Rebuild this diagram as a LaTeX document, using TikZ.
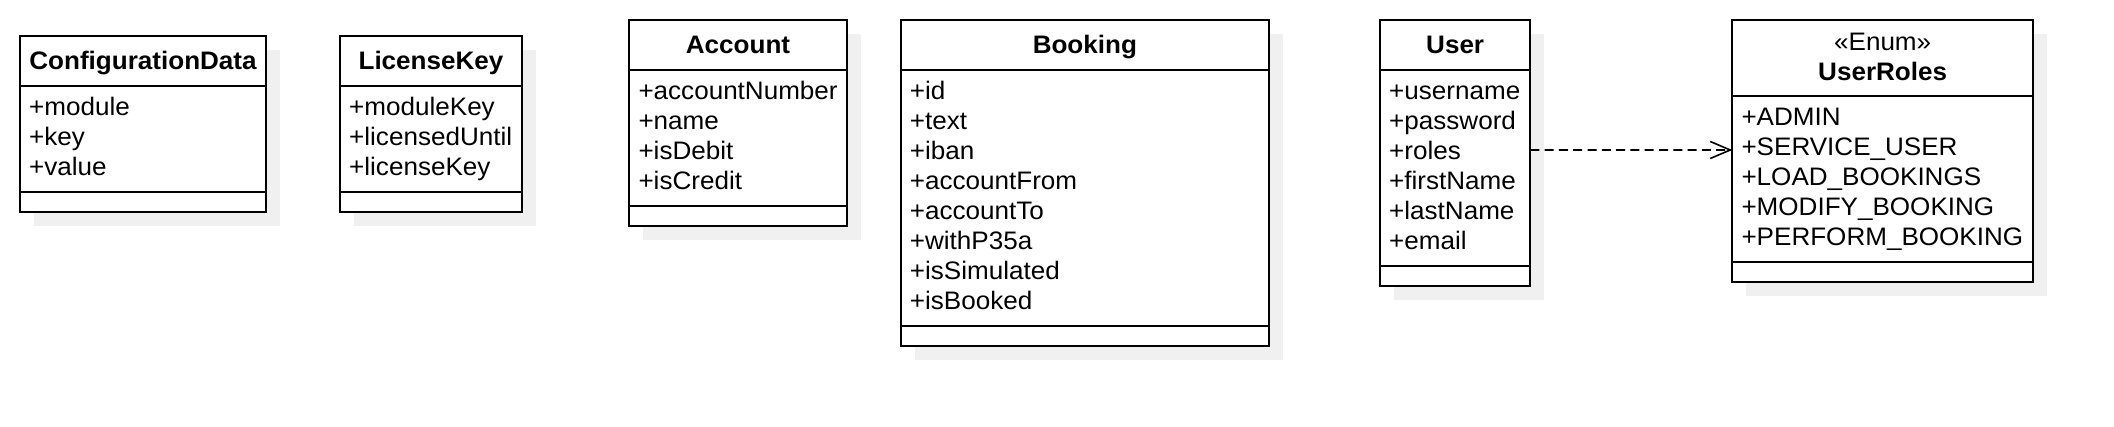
\documentclass[tikz,border=0pt]{standalone}
\usepackage{fontspec}
\setmainfont[FakeStretch=1.03]{Liberation Sans}
\usetikzlibrary{arrows.meta,calc}
\definecolor{shadowc}{RGB}{240,240,240}
\tikzset{
  cbox/.style={rectangle, draw=black, line width=2pt, fill=white, inner sep=0pt, outer sep=0pt, anchor=north west},
  attr/.style={anchor=base west, inner sep=0pt, font=\fontsize{25.3pt}{30pt}\selectfont},
  hdr/.style={anchor=base, inner sep=0pt, font=\fontsize{25.3pt}{30pt}\selectfont\bfseries},
  stereo/.style={anchor=base, inner sep=0pt, font=\fontsize{25.3pt}{30pt}\selectfont},
  dep/.style={line width=1.6pt, dash pattern=on 9pt off 5.3pt, -{Straight Barb[length=20pt,width=17pt]}}
}
% #1 name, #2 x, #3 top, #4 width, #5 header height, #6 attribute height, #7 attribute list
\newcommand{\umlClass}[7]{%
  \fill[shadowc] (#2+14,#3+14) rectangle ++(#4,#5+#6+20);
  \node[cbox, minimum width=#4pt, minimum height=#5pt] (#1-h) at (#2,#3) {};
  \node[cbox, minimum width=#4pt, minimum height=#6pt] (#1-a) at (#1-h.south west) {};
  \node[cbox, minimum width=#4pt, minimum height=20pt] (#1-m) at (#1-a.south west) {};
  \foreach \t [count=\i] in {#7} {
    \node[attr] (#1-r\i) at ($(#1-a.north west)+(9,29.7+30*\i-30)$) {+\t};
  }
}
\begin{document}
\begin{tikzpicture}[x=1pt,y=-1pt]
\fill[white] (0,0) rectangle (2114,426);
\useasboundingbox (0,0) rectangle (2114,426);

\umlClass{ConfigurationData}{20}{35.7}{246}{50}{106}{module,key,value}
\node[hdr] (ConfigurationData-t) at ($(ConfigurationData-h.north)+(0,33.5)$) {ConfigurationData};

\umlClass{LicenseKey}{340}{35.7}{182}{50}{106}{moduleKey,licensedUntil,licenseKey}
\node[hdr] (LicenseKey-t) at ($(LicenseKey-h.north)+(0,33.5)$) {LicenseKey};

\umlClass{Account}{629.3}{20}{217.4}{50}{136}{accountNumber,name,isDebit,isCredit}
\node[hdr] (Account-t) at ($(Account-h.north)+(0,33.5)$) {Account};

\umlClass{Booking}{900.7}{20}{368.3}{50}{255.7}{id,text,iban,accountFrom,accountTo,withP35a,isSimulated,isBooked}
\node[hdr] (Booking-t) at ($(Booking-h.north)+(0,33.5)$) {Booking};

\umlClass{User}{1380}{20}{150.3}{50}{196}{username,password,roles,firstName,lastName,email}
\node[hdr] (User-t) at ($(User-h.north)+(0,33.5)$) {User};

\umlClass{UserRoles}{1732.3}{20}{300.7}{75.7}{166.3}{ADMIN,SERVICE\_USER,LOAD\_BOOKINGS,MODIFY\_BOOKING,PERFORM\_BOOKING}
\node[stereo] (UserRoles-s) at ($(UserRoles-h.north)+(0,30.5)$) {«Enum»};
\node[hdr] (UserRoles-t) at ($(UserRoles-h.north)+(0,60)$) {UserRoles};

\draw[dep] ($(User-a.north east)+(0,80)$) -- ($(UserRoles-a.north west)+(0,54.3)$);
\end{tikzpicture}
\end{document}
